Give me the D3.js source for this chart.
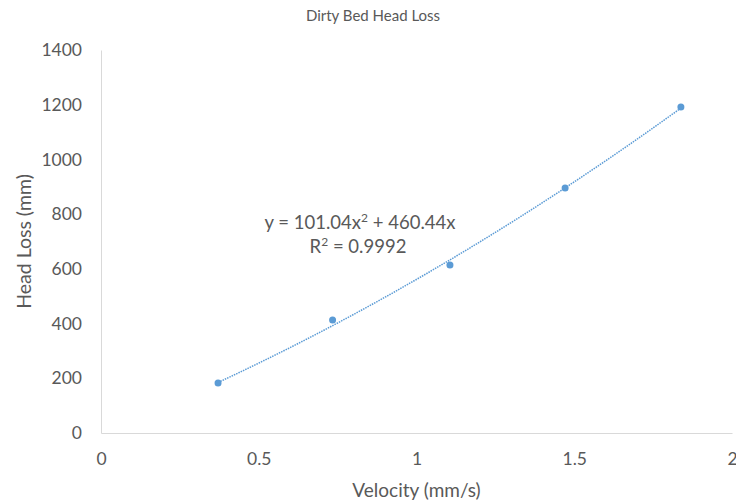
<!DOCTYPE html>
<html lang="en">
<head>
    <meta charset="utf-8">
    <title>Dirty Bed Head Loss</title>
    <script src="https://cdn.jsdelivr.net/npm/d3@7"></script>
    <style type="text/css">
        body { margin: 0; background: #fff; }
        svg text { font-family: Lato, "Open Sans", sans-serif; fill: #595959; }
        .axis path, .axis line { stroke: #d9d9d9; }
    </style>
</head>
<body>
<div id="chart"></div>
<script>
// measured points
const velocity = [0.371, 0.734, 1.106, 1.471, 1.838];
const headLoss = [183, 413, 614, 896, 1192];
// trendline y = a*x^2 + b*x (from the chart label)
const trendA = 101.04, trendB = 460.44;
const xTicks = [0, 0.5, 1, 1.5, 2];
const yTicks = [0, 200, 400, 600, 800, 1000, 1200, 1400];

const margin = {top: 50, right: 4, bottom: 71, left: 101},
    width = 736 - margin.left - margin.right,
    height = 504 - margin.top - margin.bottom;

const x = d3.scaleLinear().domain([0, 2]).range([0, width]);
const y = d3.scaleLinear().domain([0, 1400]).range([height, 0]);

const root = d3.select("#chart").append("svg")
    .attr("width", 736)
    .attr("height", 504);

const svg = root.append("g")
    .attr("transform", "translate(" + margin.left + "," + margin.top + ")");

root.append("text")
    .attr("x", 373).attr("y", 21)
    .attr("text-anchor", "middle")
    .style("font-size", "15px")
    .text("Dirty Bed Head Loss");

// axes
const xAxis = svg.append("g")
    .attr("class", "axis")
    .attr("transform", "translate(0," + height + ")")
    .call(d3.axisBottom(x).tickValues(xTicks).tickSize(0).tickPadding(20).tickFormat(d3.format("")));
xAxis.selectAll("text").style("font-size", "17.5px");

const yAxis = svg.append("g")
    .attr("class", "axis")
    .call(d3.axisLeft(y).tickValues(yTicks).tickSize(0).tickPadding(19).tickFormat(d3.format("d")));
yAxis.selectAll("text").style("font-size", "17.5px");

svg.append("text")
    .attr("x", width / 2).attr("y", height + 64)
    .attr("text-anchor", "middle")
    .style("font-size", "19px")
    .text("Velocity (mm/s)");

svg.append("text")
    .attr("transform", "translate(" + (24 - margin.left) + "," + (height / 2) + ") rotate(-90)")
    .attr("dy", "0.35em")
    .attr("text-anchor", "middle")
    .style("font-size", "19.5px")
    .text("Head Loss (mm)");

// trendline
const trendX = d3.range(velocity[0], velocity[velocity.length - 1] + 0.001, 0.02);
const line = d3.line()
    .x(d => x(d))
    .y(d => y(trendA * d * d + trendB * d));
svg.append("path")
    .datum(trendX)
    .attr("fill", "none")
    .attr("stroke", "#5b9bd5")
    .attr("stroke-width", 1.5)
    .attr("stroke-dasharray", "1.5,1")
    .attr("d", line);

// points
svg.selectAll(".dot")
    .data(velocity)
    .enter().append("circle")
    .attr("class", "dot")
    .attr("cx", d => x(d))
    .attr("cy", (d, i) => y(headLoss[i]))
    .attr("r", 3.5)
    .attr("fill", "#5b9bd5");

// equation label
const eq = svg.append("text")
    .attr("text-anchor", "middle")
    .style("font-size", "18.5px");
eq.append("tspan").attr("x", 259).attr("y", 179).text("y = 101.04x");
eq.append("tspan").attr("dy", -7).style("font-size", "12px").text("2");
eq.append("tspan").attr("dy", 7).text(" + 460.44x");
const r2 = svg.append("text")
    .attr("text-anchor", "middle")
    .style("font-size", "18.5px");
r2.append("tspan").attr("x", 257).attr("y", 203).text("R");
r2.append("tspan").attr("dy", -7).style("font-size", "12px").text("2");
r2.append("tspan").attr("dy", 7).text(" = 0.9992");
</script>
</body>
</html>
